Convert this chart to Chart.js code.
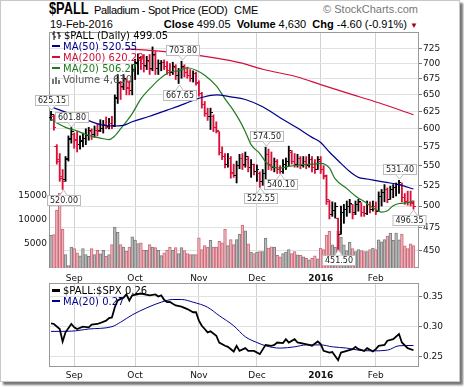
<!DOCTYPE html>
<html>
<head>
<meta charset="utf-8">
<script src="https://cdn.jsdelivr.net/npm/chart.js@4.4.1/dist/chart.umd.min.js"></script>
<style>
  body { margin:0; width:464px; height:387px; background:#fff; overflow:hidden; position:relative; }
  #frame { position:absolute; left:0; top:0; width:458px; height:380px; border:1px solid #c8c8c8; box-shadow:3px 3px 2px #777; background:#fff; }
  canvas { position:absolute; left:0; }
  #cMain { top:0; }
  #cSub { top:270px; }
  .hd { position:absolute; white-space:nowrap; font-family:"Liberation Sans", Arial, sans-serif; line-height:1; color:#000; }
  .lg { position:absolute; white-space:nowrap; font-family:"DejaVu Sans", Verdana, sans-serif; font-size:10px; line-height:11px; }
  .mk { display:inline-block; width:8px; height:2px; vertical-align:middle; margin-right:3px; position:relative; top:-1px; }
</style>
</head>
<body>
<div id="frame"></div>

<div class="hd" style="left:49px;top:1px;font-size:16px;font-weight:bold;transform:scaleX(0.8);transform-origin:0 0">$PALL</div>
<div class="hd" style="left:94px;top:5px;font-size:11px;letter-spacing:-0.35px">Palladium - Spot Price (EOD)</div>
<div class="hd" style="left:234px;top:5px;font-size:11px">CME</div>
<div class="hd" style="right:46px;top:4px;font-size:11px;color:#777">&copy; StockCharts.com</div>
<div class="hd" style="left:50px;top:19px;font-size:11px">19-Feb-2016</div>
<div class="hd" style="right:46px;top:19px;font-size:11px">
  <b>Close</b> 499.05&nbsp; <b>Volume</b> 4,630&nbsp; <b>Chg</b> -4.60 (-0.91%) <span style="color:#a00010;font-size:8px">&#9660;</span>
</div>

<canvas id="cMain" width="464" height="290"></canvas>
<canvas id="cSub" width="464" height="117"></canvas>

<div class="lg" style="left:52px;top:30px">
  <div><svg width="9" height="9" style="vertical-align:-1px;margin-right:3px"><path d="M2 0V9M0 3H2M2 6H4M7 1V8M5 2H7M7 5H9" stroke="#000" stroke-width="1" fill="none"/></svg>$PALL (Daily) 499.05</div>
  <div style="color:#00008b"><span class="mk" style="background:#00008b"></span>MA(50) 520.55</div>
  <div style="color:#d0103a"><span class="mk" style="background:#d0103a"></span>MA(200) 620.20</div>
  <div style="color:#1e7b1e"><span class="mk" style="background:#1e7b1e"></span>MA(20) 506.27</div>
  <div style="color:#555"><svg width="9" height="9" style="vertical-align:-1px;margin-right:2px"><path d="M0 9V4H2V9M3 9V2H5V9M6 9V5H8V9" fill="#777"/></svg>Volume 4,630</div>
</div>

<div class="lg" style="left:52px;top:285px">
  <div><span class="mk" style="background:#000;height:3px"></span>$PALL:$SPX 0.26</div>
  <div style="color:#00008b"><span class="mk" style="background:#00008b"></span>MA(20) 0.27</div>
</div>

<script>
// ---- datos: etiquetas de ejes ----
const monthIdx = [8, 29, 51, 71, 93, 112];
const monthLbl = ['Sep', 'Oct', 'Nov', 'Dec', '2016', 'Feb'];
const priceTicks = [450, 475, 500, 525, 550, 575, 600, 625, 650, 675, 700, 725];
const volTicks = [5000, 10000, 15000];
const ratioTicks = [0.25, 0.30, 0.35];

// ---- datos: barras diarias (20-Aug-2015 .. 19-Feb-2016) ----
const opens = [
  616,618,576,556,534,532,560,585,592,584,
  578,582,586,590,596,592,598,597,600,606,
  603,607,604,646,668,663,674,661,656,690,
  701,709,700,696,704,691,714,692,700,702,
  695,688,685,694,680,688,694,685,680,676,
  683,668,652,636,622,618,618,602,596,568,
  562,552,560,541,538,550,560,551,558,548,
  552,542,540,530,540,565,552,548,555,545,
  543,552,556,568,556,552,560,550,556,550,
  558,548,545,556,545,536,506,490,495,485,
  468,492,496,500,502,492,502,504,493,491,
  502,496,500,494,512,516,520,508,520,522,
  526,526,510,506,504,503];
const highs = [
  625.15,620,578,566,545,562,590,601.8,594,596,
  590,594,600,602,600,604,606,613,612,617,
  615,618,650,682,671,682,675,672,698,707,
  716,712,715,712,715,728,720,706,705,706,
  703,700,702,698,692,703.8,698,694,690,688,
  686,672,654,640,630,630,620,610,596,575,
  566,566,562,552,556,565,566,568,562,558,
  552,551,542,545,574.5,572,568,560,558,550,
  558,560,576,570,566,565,562,562,562,565,
  562,558,562,562,550,538,507,505,504,486,
  500,502,506,508,502,506,508,504,500,506,
  505,506,505,517,520,526,522,524,526,528,
  531.4,528,515,518,518,506];
const lows = [
  612,598,552,530,520,530,556,580,573,568,
  572,575,578,584,585,588,590,596,594,600,
  600,600,603,637,643,658,650,650,650,674,
  682,690,686,690,682,688,682,682,688,690,
  682,680,682,674,667.65,676,678,676,671,670,
  665,648,630,618,612,599,596,594,564,558,
  547,548,534,535,528,546,545,548,542,535,
  538,530,522.55,525,530,545,544,542,540,540.1,
  540,545,550,552,548,548,546,548,546,548,
  542,540,545,540,533,502,485,488,486,451.5,
  468,480,488,492,485,490,494,488,488,490,
  492,494,490,494,500,505,504,508,510,512,
  515,505,502,501,500,496.35];
const closes = [
  621,602,558,536,530,558,586,596,585,578,
  583,587,590,597,592,598,596,600,605,602,
  608,603,645,670,662,675,660,656,690,700,
  710,700,695,705,690,715,692,700,702,695,
  688,685,695,680,688,695,685,680,676,684,
  670,652,635,622,618,624,602,598,568,562,
  552,560,540,538,550,560,550,562,548,552,
  542,545,530,540,565,552,548,555,545,543,
  552,556,570,556,552,560,550,556,550,558,
  548,545,558,545,538,508,490,495,500,468,
  492,496,500,503,490,502,505,493,491,502,
  496,500,494,512,516,520,508,520,522,526,
  528,510,506,504,503.65,499.05];
const volumes = [
  6750,6900,12000,15500,8000,2750,500,4300,4000,3150,
  2500,4000,2750,2400,4000,2750,3650,2950,3650,2400,
  2750,4850,8400,7400,4850,4350,3450,4350,6450,5750,
  5050,5200,3650,3650,4850,4350,4200,3650,2550,3150,
  3650,4350,3650,4200,3000,4200,3600,3000,2750,2750,
  2750,6250,3800,4650,4350,5700,4350,4350,5500,5200,
  8000,4650,5900,4850,5900,6950,8900,7700,5000,3300,
  3000,3300,3400,3400,6200,4100,4400,4300,2600,2300,
  3000,3300,3800,3000,3400,2700,2600,2300,2000,1700,
  2000,2500,1900,4100,3800,6800,7600,4800,4300,7600,
  6400,4800,3600,5300,4000,3400,3800,3600,3400,3400,
  3800,4100,3800,5800,5400,5900,6600,7200,5700,7200,
  5800,7000,4600,4000,5000,4630];

// ---- datos: medias moviles ----
const ma50Idx = [0,5,11,17,21,25,28,34,40,44,48,52,57,62,67,73,79,85,90,93,96,100,103,106,109,115,120,125];
const ma50Val = [632,624,615,606,604,605,610,618,627,633,640,646,650,647,643,632,616,601,588,581,568,553,542.5,535,533,529,526,520.55];
const ma200Idx = [26,34,46,57,65,73,85,93,102,113,125];
const ma200Val = [724.5,722,716.5,709,701.5,690.6,678,666,653,638,620.2];
const ma20Idx = [0,3,5,9,12,17,20,22,24,28,31,35,38,41,44,47,50,53,57,60,63,65,67,69,72,74,76,79,82,87,90,93,96,98,102,105,109,111,114,116,118,120,123,125];
const ma20Val = [614,606,602,597,592,587,585,590,600,622,644,664,677,686,688,693,689,681,664,644,626,612,596,578,566,555,549,547,549,551.5,552,553,547,533,521,512,503,498,493,494.5,500.5,503,504,506.27];

// ---- datos: maximos/minimos marcados ----
const annIdx = [0, 7, 4, 45, 44, 74, 72, 79, 99, 120, 125];
const annVal = [625.15, 601.80, 520.00, 703.80, 667.65, 574.50, 522.55, 540.10, 451.50, 531.40, 496.35];
const annUp = [true, true, false, true, false, true, false, false, false, true, false];

// ---- datos: panel inferior $PALL:$SPX ----
const ratioIdx = [0,1,3,4,5,7,8,9,11,13,14,16,17,19,20,21,22,23,24,25,26,27,28,31,34,36,37,38,39,40,41,42,43,45,47,49,50,51,52,53,54,55,57,58,60,61,63,64,65,67,68,70,72,74,76,77,78,80,81,82,84,85,87,89,90,92,93,94,96,97,99,100,102,104,105,106,108,109,111,112,113,115,116,118,120,121,123,125];
const ratioVal = [0.305,0.304,0.2956,0.2747,0.29,0.304,0.2983,0.2956,0.2995,0.2983,0.303,0.304,0.3057,0.3096,0.314,0.315,0.332,0.3433,0.346,0.348,0.3535,0.3433,0.352,0.355,0.352,0.3535,0.35,0.352,0.3445,0.3405,0.341,0.3378,0.335,0.333,0.329,0.3236,0.3236,0.3096,0.301,0.2956,0.29,0.2917,0.2843,0.273,0.2675,0.2658,0.2579,0.2675,0.259,0.2636,0.259,0.259,0.2535,0.269,0.2675,0.269,0.273,0.272,0.2787,0.273,0.2787,0.273,0.2713,0.269,0.2675,0.2747,0.2703,0.259,0.2562,0.257,0.2434,0.2562,0.259,0.2619,0.2658,0.2619,0.259,0.2636,0.2579,0.2619,0.2675,0.269,0.276,0.2787,0.2872,0.273,0.2636,0.26];
const rmaIdx = [0,7,13,21,24,28,33,38,42,45,49,54,58,63,67,71,74,79,84,88,93,97,102,106,111,116,120,125];
const rmaVal = [0.2916,0.292,0.2956,0.2995,0.307,0.3192,0.331,0.3405,0.345,0.345,0.3405,0.332,0.318,0.301,0.2826,0.273,0.2675,0.2636,0.2658,0.269,0.269,0.2658,0.2636,0.2602,0.259,0.2602,0.2675,0.268];

// ---- estilo ----
const AX = 'DejaVu Sans';
const RED = '#dc1038';
const BLK = '#000';
const NAVY = '#00008b';

const up = closes.map((c, i) => i === 0 ? c >= opens[0] : c >= closes[i - 1]);
const pts = (xs, ys) => xs.map((x, k) => ({ x: x, y: ys[k] }));

function tickImg(color, side) {
  const c = document.createElement('canvas');
  c.width = 5; c.height = 1;
  const g = c.getContext('2d');
  g.fillStyle = color;
  g.fillRect(side === 'L' ? 0 : 3, 0, 2, 1);
  return c;
}
const openImg = { up: tickImg(BLK, 'L'), dn: tickImg(RED, 'L') };
const closeImg = { up: tickImg(BLK, 'R'), dn: tickImg(RED, 'R') };

const xScale = (h, pad) => ({
  type: 'linear', min: -0.7, max: 126.9, offset: false,
  afterBuildTicks: s => { s.ticks = monthIdx.map(v => ({ value: v })); },
  afterFit: s => { s.height = h; },
  ticks: {
    autoSkip: false, maxRotation: 0, padding: pad, color: '#111',
    font: c => ({ family: AX, size: 9, weight: (c.tick && c.tick.value === monthIdx[4]) ? 'bold' : 'normal' }),
    callback: v => monthLbl[monthIdx.indexOf(v)]
  },
  grid: { color: '#d2d2d2', drawTicks: false, offset: false },
  border: { display: false }
});

// marco del area de trazado
const frame = {
  id: 'frame',
  beforeDatasetsDraw(c) {
    const a = c.chartArea, g = c.ctx;
    g.save();
    g.strokeStyle = '#999';
    g.lineWidth = 1;
    g.strokeRect(Math.round(a.left) + 0.5, Math.round(a.top) + 0.5, Math.round(a.right - a.left) - 1, Math.round(a.bottom - a.top) - 1);
    g.restore();
  }
};

// cajitas con los valores de maximos y minimos
const labels = {
  id: 'labels',
  afterDraw(c) {
    const g = c.ctx, xs = c.scales.x, ys = c.scales.y;
    g.save();
    g.font = '8px "DejaVu Sans"';
    g.lineWidth = 1;
    annIdx.forEach((ix, k) => {
      const px = Math.round(xs.getPixelForValue(ix)) + 0.5;
      const py = Math.round(ys.getPixelForValue(annVal[k]));
      const txt = annVal[k].toFixed(2);
      const w = Math.round(g.measureText(txt).width) + 5, h = 10;
      let bx = Math.round(px - w / 2) + 0.5;
      bx = Math.min(bx, c.chartArea.right + 7 - w);
      const by = annUp[k] ? py - 6 - h + 0.5 : py + 6 + 0.5;
      const baseY = annUp[k] ? by + h : by;
      const tipY = annUp[k] ? py - 1 : py + 1;
      g.fillStyle = '#fff';
      g.strokeStyle = '#bbb';
      g.fillRect(bx, by, w, h);
      g.strokeRect(bx, by, w, h);
      g.beginPath();
      g.moveTo(px - 4, baseY);
      g.lineTo(px, tipY);
      g.lineTo(px + 4, baseY);
      g.closePath();
      g.fill();
      g.beginPath();
      g.moveTo(px - 4, baseY);
      g.lineTo(px, tipY);
      g.lineTo(px + 4, baseY);
      g.stroke();
      g.fillStyle = '#222';
      g.textBaseline = 'middle';
      g.fillText(txt, bx + 2.5, by + h / 2 + 0.5);
    });
    g.restore();
  }
};

new Chart(document.getElementById('cMain'), {
  type: 'bar',
  data: {
    datasets: [
      { type: 'line', data: pts(ma200Idx, ma200Val), yAxisID: 'y', borderColor: '#d0103a', borderWidth: 1.2, pointRadius: 0, cubicInterpolationMode: 'monotone', order: 0 },
      { type: 'line', data: pts(ma50Idx, ma50Val), yAxisID: 'y', borderColor: NAVY, borderWidth: 1.2, pointRadius: 0, cubicInterpolationMode: 'monotone', order: 0 },
      { type: 'line', data: pts(ma20Idx, ma20Val), yAxisID: 'y', borderColor: '#1e7b1e', borderWidth: 1.2, pointRadius: 0, cubicInterpolationMode: 'monotone', order: 0 },
      { type: 'line', showLine: false, data: opens.map((o, i) => ({ x: i, y: o })), yAxisID: 'y', pointStyle: up.map(u => u ? openImg.up : openImg.dn), pointRadius: 3, order: 1 },
      { type: 'line', showLine: false, data: closes.map((o, i) => ({ x: i, y: o })), yAxisID: 'y', pointStyle: up.map(u => u ? closeImg.up : closeImg.dn), pointRadius: 3, order: 1 },
      { type: 'bar', data: highs.map((h, i) => ({ x: i, y: [lows[i], h] })), yAxisID: 'y', backgroundColor: up.map(u => u ? BLK : RED), barThickness: 1.2, grouped: false, borderWidth: 0, order: 2 },
      { type: 'bar', data: volumes.map((v, i) => ({ x: i, y: v })), yAxisID: 'yv', backgroundColor: up.map(u => u ? '#bdbdbd' : '#efb3ba'), borderColor: up.map(u => u ? '#7d7d7d' : '#cc6b7b'), borderWidth: 1, barThickness: 2.8, grouped: false, order: 10 }
    ]
  },
  options: {
    responsive: false, animation: false, devicePixelRatio: 1, events: [],
    layout: { padding: { top: 32, left: 0, right: 0, bottom: 0 } },
    plugins: { legend: { display: false }, tooltip: { enabled: false } },
    scales: {
      x: xScale(22, 5),
      y: {
        type: 'logarithmic', position: 'right', min: 432, max: 754,
        afterBuildTicks: s => { s.ticks = priceTicks.map(v => ({ value: v })); },
        afterFit: s => { s.width = 45; },
        ticks: { font: { family: AX, size: 9 }, color: '#111', padding: 1, callback: v => String(v) },
        grid: { color: '#e2e2e2', tickColor: '#777', tickLength: 3 },
        border: { display: false }
      },
      yv: {
        type: 'linear', position: 'left', min: 0, max: 48800,
        afterBuildTicks: s => { s.ticks = volTicks.map(v => ({ value: v })); },
        afterFit: s => { s.width = 49; },
        ticks: { font: { family: AX, size: 9 }, color: '#111', padding: 2, callback: v => String(v) },
        grid: { display: false, drawTicks: false },
        border: { display: false }
      }
    }
  },
  plugins: [frame, labels]
});

new Chart(document.getElementById('cSub'), {
  type: 'line',
  data: {
    datasets: [
      { data: pts(ratioIdx, ratioVal), borderColor: '#000', borderWidth: 1.8, pointRadius: 0, tension: 0 },
      { data: pts(rmaIdx, rmaVal), borderColor: NAVY, borderWidth: 1, pointRadius: 0, cubicInterpolationMode: 'monotone' }
    ]
  },
  options: {
    responsive: false, animation: false, devicePixelRatio: 1, events: [],
    layout: { padding: { top: 13, left: 49, right: 0, bottom: 0 } },
    plugins: { legend: { display: false }, tooltip: { enabled: false } },
    scales: {
      x: xScale(20, 3),
      y: {
        type: 'linear', position: 'right', min: 0.232, max: 0.3726,
        afterBuildTicks: s => { s.ticks = ratioTicks.map(v => ({ value: v })); },
        afterFit: s => { s.width = 45; },
        ticks: { font: { family: AX, size: 9 }, color: '#111', padding: 1, callback: v => v.toFixed(2) },
        grid: { color: '#e2e2e2', tickColor: '#777', tickLength: 3 },
        border: { display: false }
      }
    }
  },
  plugins: [frame]
});
</script>
</body>
</html>
